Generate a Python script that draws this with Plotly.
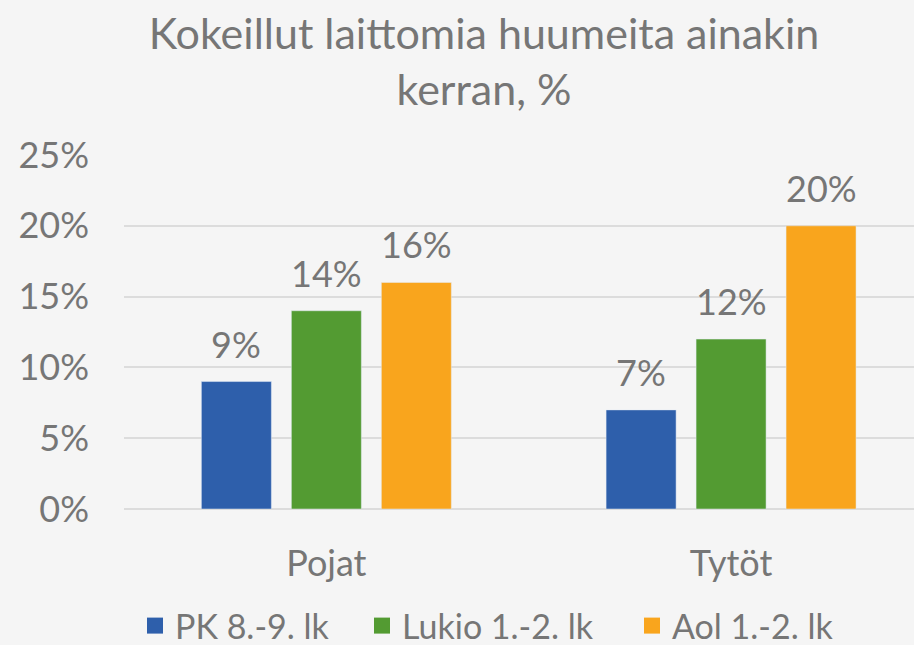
import plotly.graph_objects as go

categories = ["Pojat", "Tytöt"]
series_names = ["PK 8.-9. lk", "Lukio 1.-2. lk", "Aol 1.-2. lk"]
values_pk = [0.09, 0.07]
values_lukio = [0.14, 0.12]
values_aol = [0.16, 0.20]
colors = ["#2E5FAB", "#539B32", "#F9A51D"]
y_ticks = [0, 0.05, 0.10, 0.15, 0.20, 0.25]
y_tick_labels = ["0%", "5%", "10%", "15%", "20%", "25%"]

FONT = "Lato"
TXT = "#767676"
FS = 36
LFS = 34

all_values = [values_pk, values_lukio, values_aol]
legend_ids = ["legend", "legend2", "legend3"]
legend_x = [135, 362, 632]

fig = go.Figure()
for name, vals, col in zip(series_names, all_values, colors):
    fig.add_trace(go.Bar(x=categories, y=vals, name=name, marker_color=col,
                         showlegend=False, hoverinfo="skip"))
for name, col, lid in zip(series_names, colors, legend_ids):
    fig.add_trace(go.Scatter(x=[None], y=[None], mode="markers", name=name,
                             legend=lid,
                             marker=dict(symbol="square", size=16, color=col)))

shifts = [-90, 0, 90]
for vals, sh in zip(all_values, shifts):
    for c, v in zip(categories, vals):
        fig.add_annotation(x=c, y=v, text=f"{round(v*100)}%", showarrow=False,
                           xshift=sh, yshift=14, yanchor="bottom",
                           font=dict(family=FONT, size=FS, color=TXT))

legend_style = dict(orientation="h", xanchor="left", xref="container",
                    y=1-626/645, yanchor="middle", yref="container",
                    font=dict(family=FONT, size=LFS, color=TXT),
                    bgcolor="rgba(0,0,0,0)")
layout_legends = {}
for lid, lx in zip(legend_ids, legend_x):
    layout_legends[lid] = dict(legend_style, x=lx/914)

fig.update_layout(
    width=914, height=645,
    paper_bgcolor="#F5F5F5", plot_bgcolor="#F5F5F5",
    margin=dict(l=124, r=0, t=155, b=136),
    bargap=0.333, bargroupgap=0.222,
    title=dict(text="Kokeillut laittomia huumeita ainakin<br>kerran, %",
               x=484/914, xanchor="center", y=1-49/645, yanchor="middle",
               font=dict(family=FONT, size=43, color=TXT)),
    font=dict(family=FONT, color=TXT),
    xaxis=dict(range=[-0.5, 1.452], showgrid=False, zeroline=False,
               tickfont=dict(family=FONT, size=FS, color=TXT),
               ticklabelstandoff=30, showline=False),
    yaxis=dict(range=[0, 0.25], tickvals=y_ticks, ticktext=y_tick_labels,
               gridcolor="#DCDCDC", gridwidth=2, zeroline=True,
               zerolinecolor="#DCDCDC", zerolinewidth=2,
               tickfont=dict(family=FONT, size=FS, color=TXT),
               ticklabelstandoff=34),
    **layout_legends,
)
fig.write_html("out.html", config={"displayModeBar": False},
               post_script="document.body.style.margin='0';document.body.style.overflow='hidden';window.scrollTo(0,0);")
